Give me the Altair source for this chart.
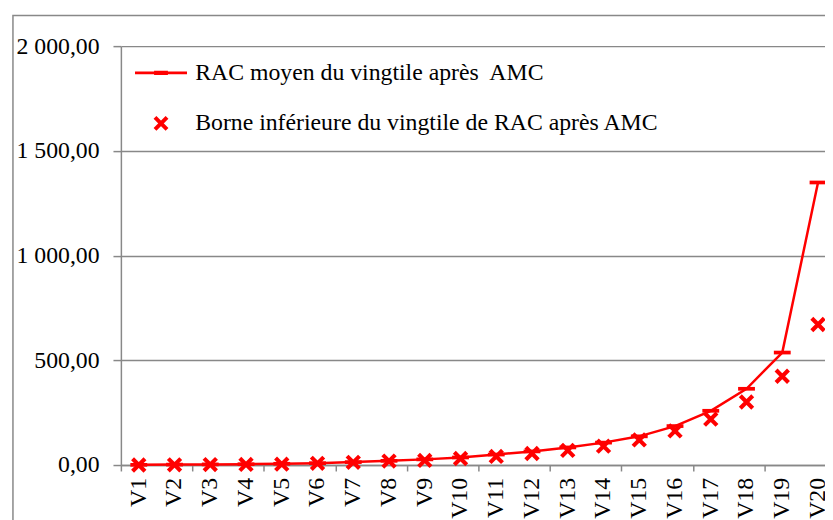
import altair as alt
import pandas as pd

# ---- data ----
idx = list(range(1, 21))
categories = [f"V{i}" for i in idx]
mean_values = [1, 2, 3, 4, 6, 9, 14, 20, 27, 36, 50, 65, 84, 107, 137, 186, 259, 364, 537, 1349]
lower_bounds = [0, 1, 2, 3, 4, 8, 13, 19, 22, 31, 41, 55, 70, 90, 120, 163, 219, 301, 424, 671]
series_names = ["RAC moyen du vingtile après\u00a0 AMC",
                "Borne inférieure du vingtile de RAC après AMC"]
y_ticks = [0, 500, 1000, 1500, 2000]

df_mean = pd.DataFrame({"idx": idx, "cat": categories, "value": mean_values, "series": series_names[0]})
df_low = pd.DataFrame({"idx": idx, "cat": categories, "value": lower_bounds, "series": series_names[1]})

# ---- layout / style ----
BAND = 36.1
W, H = 711, 423
RED = "#FF0000"
GRAY = "#888888"
FONT = "'Liberation Serif', 'Times New Roman', Times, serif"

X_PATH = "M-0.62,-1L1,0.62L0.62,1L-1,-0.62Z M0.62,-1L1,-0.62L-0.62,1L-1,0.62Z"
DASH_PATH = "M-1,-0.22L1,-0.22L1,0.22L-1,0.22Z"
LEG_LINE_PATH = ("M-3.5,-0.17L-0.93,-0.17L-0.93,-0.3L0.93,-0.3L0.93,-0.17L3.5,-0.17"
                 "L3.5,0.17L0.93,0.17L0.93,0.3L-0.93,0.3L-0.93,0.17L-3.5,0.17Z")

x_scale = alt.Scale(domain=[0.5, 0.5 + W / BAND], nice=False, zero=False)
y_scale = alt.Scale(domain=[0, 2000], nice=False)

x_axis = alt.Axis(values=idx, labels=False,
                  tickSize=6, tickOffset=-BAND / 2,
                  tickColor=GRAY, tickWidth=1.5,
                  domainColor=GRAY, domainWidth=1.5, grid=False, title=None)

y_label_expr = ("datum.value >= 1000 ? floor(datum.value / 1000) + ' ' + "
                "format(datum.value % 1000, '03d') + ',00' : format(datum.value, 'd') + ',00'")
y_axis = alt.Axis(values=y_ticks, labelExpr=y_label_expr,
                  labelFont=FONT, labelFontSize=24, labelColor="black", labelPadding=14,
                  tickSize=8, tickColor=GRAY, tickWidth=1.5,
                  domainColor=GRAY, domainWidth=1.5,
                  grid=True, gridColor=GRAY, gridWidth=1.5, title=None)

border = alt.Chart(pd.DataFrame({"d": [0]})).mark_rect(
    fillOpacity=0, stroke=GRAY, strokeWidth=1.5
).encode(x=alt.value(-109), x2=alt.value(900), y=alt.value(-31), y2=alt.value(700))

line = alt.Chart(df_mean).mark_line(color=RED, strokeWidth=2.5).encode(
    x=alt.X("idx:Q", scale=x_scale, axis=x_axis),
    y=alt.Y("value:Q", scale=y_scale, axis=y_axis),
)

dashes = alt.Chart(df_mean).mark_point(
    shape=DASH_PATH, filled=True, color=RED, size=289, opacity=1
).encode(x=alt.X("idx:Q", scale=x_scale), y=alt.Y("value:Q", scale=y_scale))

crosses = alt.Chart(df_low).mark_point(
    filled=True, color=RED, size=240, opacity=1
).encode(
    x=alt.X("idx:Q", scale=x_scale),
    y=alt.Y("value:Q", scale=y_scale),
    shape=alt.Shape(
        "series:N",
        scale=alt.Scale(domain=series_names, range=[LEG_LINE_PATH, X_PATH]),
        legend=alt.Legend(orient="none", legendX=28.5, legendY=15, title=None,
                          labelFont=FONT, labelFontSize=24, labelColor="black",
                          labelOffset=22.5, labelLimit=1000,
                          symbolSize=225, symbolStrokeWidth=0,
                          rowPadding=27, padding=0),
    ),
)

x_labels = alt.Chart(df_mean).mark_text(
    angle=270, align="right", baseline="middle", font=FONT, fontSize=24, color="black"
).encode(x=alt.X("idx:Q", scale=x_scale), y=alt.value(H + 13), text="cat:N")

chart = alt.layer(border, line, dashes, crosses, x_labels).properties(
    width=W, height=H,
    autosize=alt.AutoSizeParams(type="none"),
    padding={"left": 114, "top": 36, "right": 0, "bottom": 53},
).configure(font=FONT).configure_view(strokeWidth=0)

chart.save("out.html", embed_options={"renderer": "svg", "actions": False})
